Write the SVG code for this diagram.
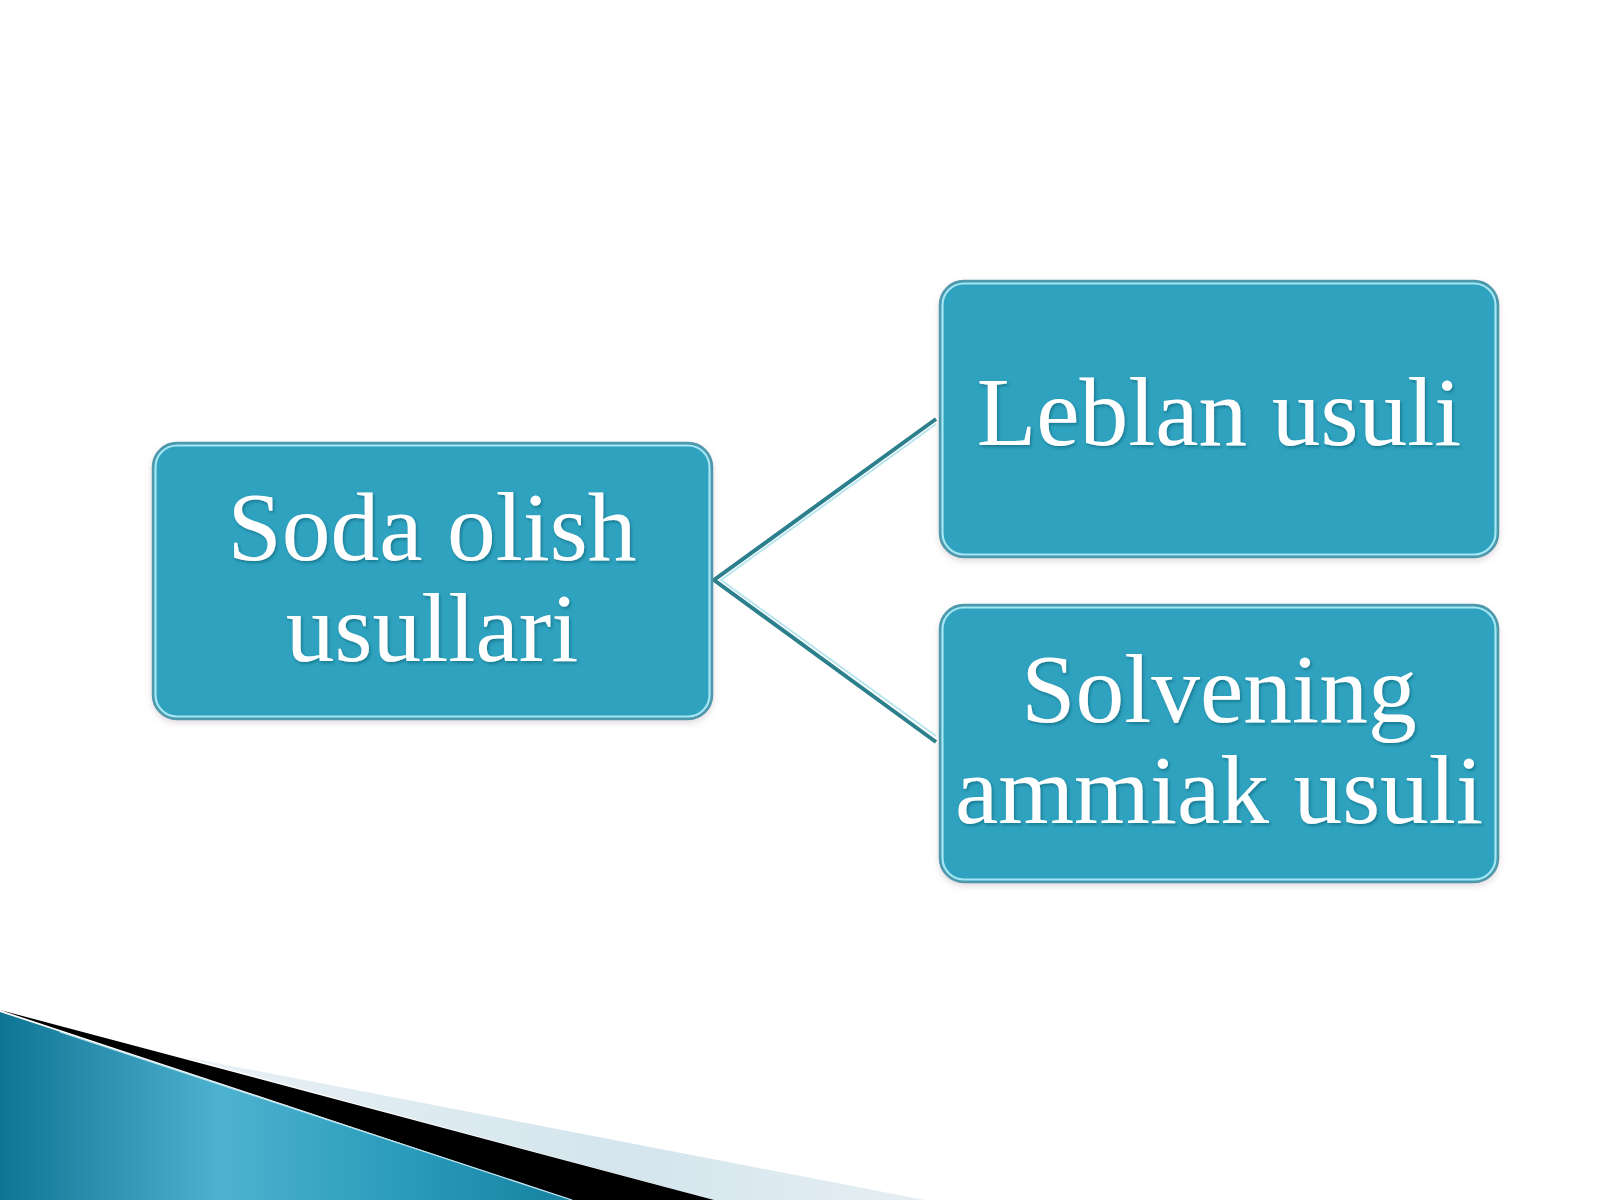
<svg xmlns="http://www.w3.org/2000/svg" width="1600" height="1200" viewBox="0 0 1600 1200">
<defs>
<style>
.box{fill:#2ea2bf;stroke:#4f97aa;stroke-width:2.5}
.boxhi{fill:none;stroke:#a6e6f3;stroke-width:2.2}
.lbl{font-family:"Liberation Serif","Times New Roman",serif;font-size:97.5px;fill:#ffffff;text-anchor:middle}
.con{fill:none;stroke:#2c7f8c;stroke-width:4;stroke-linejoin:miter}
.conhi{fill:none;stroke:#b9e6ee;stroke-width:2}
</style>
<linearGradient id="teal" x1="0" y1="0" x2="580" y2="0" gradientUnits="userSpaceOnUse">
<stop offset="0" stop-color="#0f7594"/>
<stop offset="0.38" stop-color="#4db2cf"/>
<stop offset="0.7" stop-color="#2a9bbb"/>
<stop offset="1" stop-color="#16809f"/>
</linearGradient>
<linearGradient id="band" x1="180" y1="0" x2="930" y2="0" gradientUnits="userSpaceOnUse">
<stop offset="0" stop-color="#e8f1f5"/>
<stop offset="0.6" stop-color="#d4e5ed"/>
<stop offset="1" stop-color="#e6eff3"/>
</linearGradient>
<filter id="sh" x="-10%" y="-10%" width="120%" height="130%">
<feDropShadow dx="1.5" dy="2" stdDeviation="1.5" flood-color="#0a4a5a" flood-opacity="0.45"/>
</filter>
<filter id="bsh" x="-5%" y="-5%" width="110%" height="115%">
<feDropShadow dx="0" dy="3" stdDeviation="3" flood-color="#8a7080" flood-opacity="0.25"/>
</filter>
</defs>
<rect x="0" y="0" width="1600" height="1200" fill="#ffffff"/>
<g id="decoration">
<polygon points="180,1056 925,1200 714,1200" fill="url(#band)"/>
<polygon points="0,1010 714,1200 572,1200" fill="#000000"/>
<polygon points="0,1012 572,1200 0,1200" fill="url(#teal)"/>
<line x1="60" y1="1032" x2="572" y2="1200" stroke="#bfe6f0" stroke-width="1.2"/>
</g>
<g id="connectors">
<polyline class="con" points="936,419 714,580 936,742"/>
<polyline class="conhi" points="936,424 721,580 936,736"/>
</g>
<g id="node-soda" filter="url(#bsh)">
<rect class="box" x="153" y="443" width="559" height="276" rx="24"/>
<rect class="boxhi" x="155.5" y="445.5" width="554" height="271" rx="21.5"/>
<text class="lbl" x="432" y="560" filter="url(#sh)">Soda olish</text>
<text class="lbl" x="432" y="661" filter="url(#sh)">usullari</text>
</g>
<g id="node-leblan" filter="url(#bsh)">
<rect class="box" x="940" y="281" width="558" height="276" rx="24"/>
<rect class="boxhi" x="942.5" y="283.5" width="553" height="271" rx="21.5"/>
<text class="lbl" x="1219" y="445" filter="url(#sh)">Leblan usuli</text>
</g>
<g id="node-solvening" filter="url(#bsh)">
<rect class="box" x="940" y="605" width="558" height="277" rx="24"/>
<rect class="boxhi" x="942.5" y="607.5" width="553" height="272" rx="21.5"/>
<text class="lbl" x="1219" y="722" filter="url(#sh)">Solvening</text>
<text class="lbl" x="1219" y="823" filter="url(#sh)">ammiak usuli</text>
</g>
</svg>
